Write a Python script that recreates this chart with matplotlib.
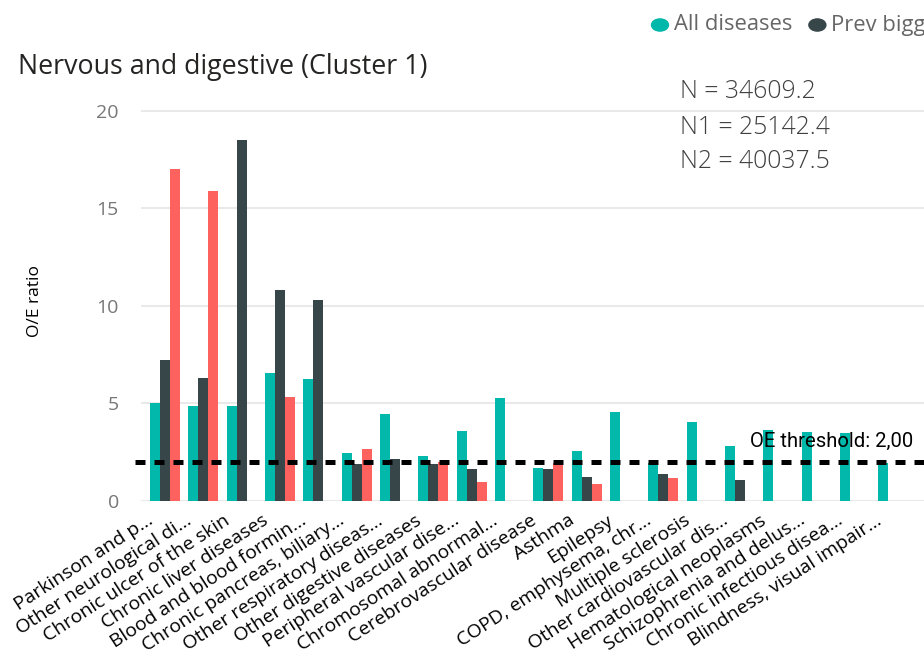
import matplotlib
matplotlib.use("Agg")
import matplotlib.pyplot as plt
import matplotlib.transforms as mtransforms
import numpy as np

categories = [
    "Parkinson and p...", "Other neurological di...", "Chronic ulcer of the skin",
    "Chronic liver diseases", "Blood and blood formin...", "Chronic pancreas, biliary...",
    "Other respiratory diseas...", "Other digestive diseases", "Peripheral vascular dise...",
    "Chromosomal abnormal...", "Cerebrovascular disease", "Asthma", "Epilepsy",
    "COPD, emphysema, chr...", "Multiple sclerosis", "Other cardiovascular dis...",
    "Hematological neoplasms", "Schizophrenia and delus...", "Chronic infectious disea...",
    "Blindness, visual impair...",
]
series_names = ["All diseases", "Prev bigger", "Prev smaller"]
all_diseases = [5.0, 4.87, 4.87, 6.55, 6.24, 2.44, 4.48, 2.31, 3.59, 5.26,
                1.69, 2.58, 4.56, 1.95, 4.07, 2.82, 3.65, 3.54, 3.49, 1.93]
prev_bigger = [7.23, 6.32, 18.5, 10.82, 10.3, 1.88, 2.14, 1.91, 1.64, np.nan,
               1.64, 1.23, np.nan, 1.37, np.nan, 1.09, np.nan, np.nan, np.nan, np.nan]
prev_smaller = [17.0, 15.9, np.nan, 5.35, np.nan, 2.67, np.nan, 2.02, 0.99, np.nan,
                1.95, 0.89, np.nan, 1.2, np.nan, np.nan, np.nan, np.nan, np.nan, np.nan]
threshold = 2.0
n_lines = ["N = 34609.2", "N1 = 25142.4", "N2 = 40037.5"]
yticks = [0, 5, 10, 15, 20]

colors = ["#01B8AA", "#374649", "#FD625E"]
FONT = ["Open Sans", "DejaVu Sans"]
plt.rcParams["font.family"] = FONT

fig = plt.figure(figsize=(9.24, 6.6), dpi=100)
ax = fig.add_axes([141 / 924, 1 - 501 / 660, 1 - 141 / 924, (501 - 101) / 660])

x = np.arange(len(categories))
w = 0.261
for k, (vals, c) in enumerate(zip([all_diseases, prev_bigger, prev_smaller], colors)):
    ax.bar(x + (k - 1) * w, vals, width=w, color=c, zorder=3, linewidth=0)

ax.set_xlim(-0.626, 19.8)
ax.set_ylim(0, 20.5)
ax.set_yticks(yticks)
ax.set_yticklabels([str(t) for t in yticks], color="#777777", fontsize=14)
ax.yaxis.grid(True, color="#E9E9E9", linewidth=1.5, zorder=0)
ax.set_axisbelow(True)
ax.tick_params(axis="y", length=0, pad=16)
ax.tick_params(axis="x", length=0, pad=22 * 0.72)
for s in ax.spines.values():
    s.set_visible(False)

# fit x-label font size to the reference label lengths (px)
renderer = fig.canvas.get_renderer()
fit_targets = {"Parkinson and p...": 160.6, "Chronic ulcer of the skin": 220.0}
scales = []
for s_txt, target in fit_targets.items():
    tmp = fig.text(0, 0, s_txt, fontsize=14)
    scales.append(target / tmp.get_window_extent(renderer).width)
    tmp.remove()
label_size = 14 * float(np.mean(scales))

ax.set_xticks(x)
ax.set_xticklabels(categories, rotation=33, ha="right", va="baseline",
                   rotation_mode="anchor", fontsize=label_size, color="#000000")
offset = mtransforms.ScaledTranslation(-11 / 100, 0, fig.dpi_scale_trans)
for lbl in ax.get_xticklabels():
    lbl.set_transform(lbl.get_transform() + offset)

ax.set_ylabel("O/E ratio", fontsize=12.5, color="#000000")
ax.yaxis.set_label_coords((43 - 141) / (924 - 141), 0.5)

ax.axhline(threshold, color="black", linewidth=3.6, dashes=(2.0, 1.8), zorder=4,
           xmin=-0.008, clip_on=False)
ax.text(19.51, 2.75, "OE threshold: 2,00", ha="right", va="baseline",
        fontsize=14.6, color="black", family=["Roboto", "DejaVu Sans"], zorder=5)

for i, line in enumerate(n_lines):
    fig.text(680 / 924, 1 - (92 + 35 * i) / 660, line, ha="left", va="center",
             fontsize=17.8, color="#404040", fontweight="light")

fig.text(18 / 924, 1 - 67 / 660, "Nervous and digestive (Cluster 1)", ha="left",
         va="center", fontsize=19.3, color="#252423")

# legend (runs off the right edge as in the reference)
lx = 660
for name, c in zip(series_names, colors):
    fig.patches.append(matplotlib.patches.Circle((lx / 924, 1 - 25 / 660), 8.5 / 924,
                       transform=fig.transFigure, color=c, figure=fig))
    t = fig.text((lx + 14) / 924, 1 - 25 / 660, name, ha="left", va="center",
                 fontsize=15.8, color="#666666")
    bb = t.get_window_extent(renderer)
    lx = bb.x1 + 25

fig.savefig("out.png", dpi=100)
